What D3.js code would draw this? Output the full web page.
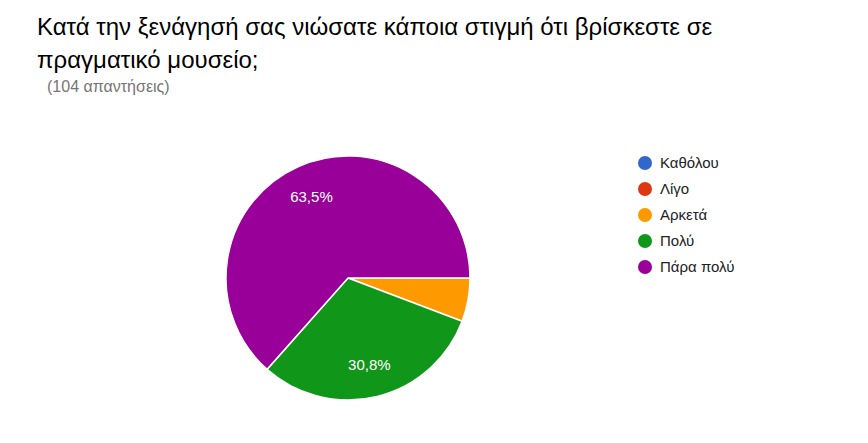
<!DOCTYPE html>
<html><head><meta charset="utf-8">
<script src="https://cdn.jsdelivr.net/npm/d3@7"></script>
<style>body{margin:0;background:#fff}</style>
</head><body>
<svg id="c" width="868" height="443"></svg>
<script>
const categories = ["Καθόλου","Λίγο","Αρκετά","Πολύ","Πάρα πολύ"];
const values = [0,0,6,32,66];
const colors = ["#3366cc","#dc3912","#ff9900","#109618","#990099"];
const titleLines = ["Κατά την ξενάγησή σας νιώσατε κάποια στιγμή ότι βρίσκεστε σε","πραγματικό μουσείο;"];
const subtitle = "(104 απαντήσεις)";
const F = "Liberation Sans, Arial, sans-serif";

const svg = d3.select("#c");
svg.selectAll("text.t").data(titleLines).join("text").attr("class","t")
  .attr("x",37).attr("y",(d,i)=>35+i*33).attr("font-family",F)
  .attr("font-size",24).attr("fill","#000").text(d=>d);
svg.append("text").attr("x",47).attr("y",92).attr("font-family",F)
  .attr("font-size",16).attr("fill","#757575").text(subtitle);

const total = d3.sum(values);
const r = 122, cx = 348, cy = 278;
const pie = d3.pie().sort(null).value(d=>d.v).startAngle(Math.PI/2).endAngle(Math.PI/2+2*Math.PI);
const data = pie(categories.map((c,i)=>({c,v:values[i],col:colors[i]})));
const arc = d3.arc().innerRadius(0).outerRadius(r);
const labelArc = d3.arc().innerRadius(r*0.73).outerRadius(r*0.73);
const g = svg.append("g").attr("transform",`translate(${cx},${cy})`);
g.selectAll("path").data(data.filter(d=>d.data.v>0)).join("path")
  .attr("d",arc).attr("fill",d=>d.data.col).attr("stroke","#fff").attr("stroke-width",1.5);
g.selectAll("text").data(data.filter(d=>d.data.v/total>0.1)).join("text")
  .attr("transform",d=>`translate(${labelArc.centroid(d)})`)
  .attr("text-anchor","middle").attr("dy","0.35em")
  .attr("font-family",F).attr("font-size",15).attr("fill","#fff")
  .text(d=>(d.data.v/total*100).toFixed(1).replace(".",",")+"%");

const lg = svg.append("g");
const ly = d3.scalePoint().domain(categories).range([163,267]);
lg.selectAll("circle").data(categories).join("circle")
  .attr("cx",645).attr("cy",d=>ly(d)).attr("r",7).attr("fill",(d,i)=>colors[i]);
lg.selectAll("text").data(categories).join("text")
  .attr("x",660).attr("y",d=>ly(d)).attr("dy","0.35em")
  .attr("font-family",F).attr("font-size",15).attr("fill","#222").text(d=>d);
</script>
</body></html>
